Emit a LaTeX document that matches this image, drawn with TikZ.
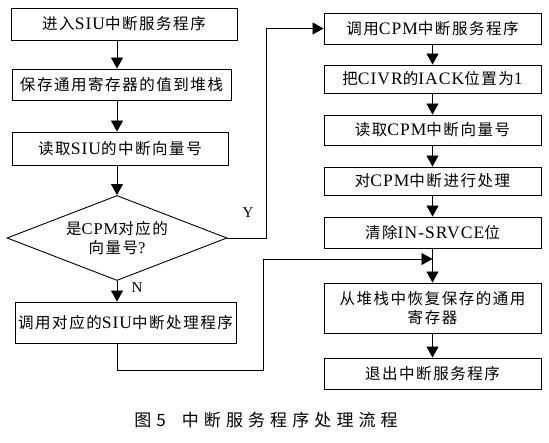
\documentclass[tikz,border=0pt]{standalone}
\usepackage{fontspec}
\setmainfont[LetterSpace=6]{Liberation Serif}
\newfontfamily\cjk[LetterSpace=10]{Noto Sans CJK SC}
\newfontfamily\capf[LetterSpace=30]{Noto Sans CJK SC}
\newcommand\zh[1]{{\cjk\fontsize{15.5pt}{19pt}\selectfont #1}}
\usetikzlibrary{shapes.geometric,arrows.meta}
\tikzset{
  box/.style={draw, line width=0.9pt, rectangle, inner sep=0pt, align=center,
    font=\fontsize{17.5pt}{19pt}\selectfont},
  arr/.style={line width=0.8pt, -{Triangle[length=11pt,width=12pt]}},
  lbl/.style={font=\fontsize{15pt}{18pt}\selectfont, inner sep=0pt},
}
\begin{document}
\begin{tikzpicture}[x=1pt,y=-1pt]
\useasboundingbox (0,0) rectangle (549,442);
\coordinate (ax) at (117,0);
\coordinate (yx) at (266,0);
\coordinate (nx) at (263,370);
\coordinate (join) at (432.5,259);
% left column
\node[box, minimum width=226pt, minimum height=32pt] (b1) at (124,24) {\zh{进入}SIU\zh{中断服务程序}};
\node[box, minimum width=219pt, minimum height=31pt] (b2) at (121.5,84.5) {\zh{保存通用寄存器的值到堆栈}};
\node[box, minimum width=216pt, minimum height=33pt] (b3) at (120,148.5) {\zh{读取}SIU\zh{的中断向量号}};
\node[diamond, draw, line width=0.9pt, minimum width=220pt, minimum height=85pt, shape aspect=2.6, inner sep=0pt, align=center, font=\fontsize{16.5pt}{19pt}\selectfont] (d) at (117,238) {\zh{是}CPM\zh{对应的}\\\zh{向量号}?};
\node[box, minimum width=221pt, minimum height=41pt] (b4) at (125.5,322.5) {\zh{调用对应的}SIU\zh{中断处理程序}};
% right column
\node[box, minimum width=217pt, minimum height=31pt] (r1) at (432.5,28.5) {\zh{调用}CPM\zh{中断服务程序}};
\node[box, minimum width=217pt, minimum height=28pt] (r2) at (432.5,79) {\zh{把}CIVR\zh{的}IACK\zh{位置为}1};
\node[box, minimum width=217pt, minimum height=30pt] (r3) at (432.5,130) {\zh{读取}CPM\zh{中断向量号}};
\node[box, minimum width=217pt, minimum height=28pt] (r4) at (432.5,181) {\zh{对}CPM\zh{中断进行处理}};
\node[box, minimum width=217pt, minimum height=31pt] (r5) at (432.5,232.5) {\zh{清除}IN-SRVCE\zh{位}};
\node[box, minimum width=217pt, minimum height=50pt] (r6) at (432.5,308) {\zh{从堆栈中恢复保存的通用}\\\zh{寄存器}};
\node[box, minimum width=217pt, minimum height=31pt] (r7) at (432.5,373.5) {\zh{退出中断服务程序}};
% labels
\node[lbl] (ylab) at (248,213) {Y};
\node[lbl] (nlab) at (137,288) {N};
\node[font=\capf\fontsize{17pt}{20pt}\selectfont, inner sep=0pt] (cap) at (266,420) {图5\hspace{16pt}中断服务程序处理流程};
% connectors
\draw[arr] (b1.south -| ax) -- (b2.north -| ax);
\draw[arr] (b2.south -| ax) -- (b3.north -| ax);
\draw[arr] (b3.south -| ax) -- (d.north);
\draw[arr] (d.south) -- (b4.north -| ax);
\draw[arr] (d.east) -- (d.east -| yx) |- (r1.west);
\draw[arr] (b4.south -| ax) |- (nx) |- (join);
\draw[arr] (r1) -- (r2);
\draw[arr] (r2) -- (r3);
\draw[arr] (r3) -- (r4);
\draw[arr] (r4) -- (r5);
\draw[arr] (r5) -- (r6);
\draw[arr] (r6) -- (r7);
\end{tikzpicture}
\end{document}
